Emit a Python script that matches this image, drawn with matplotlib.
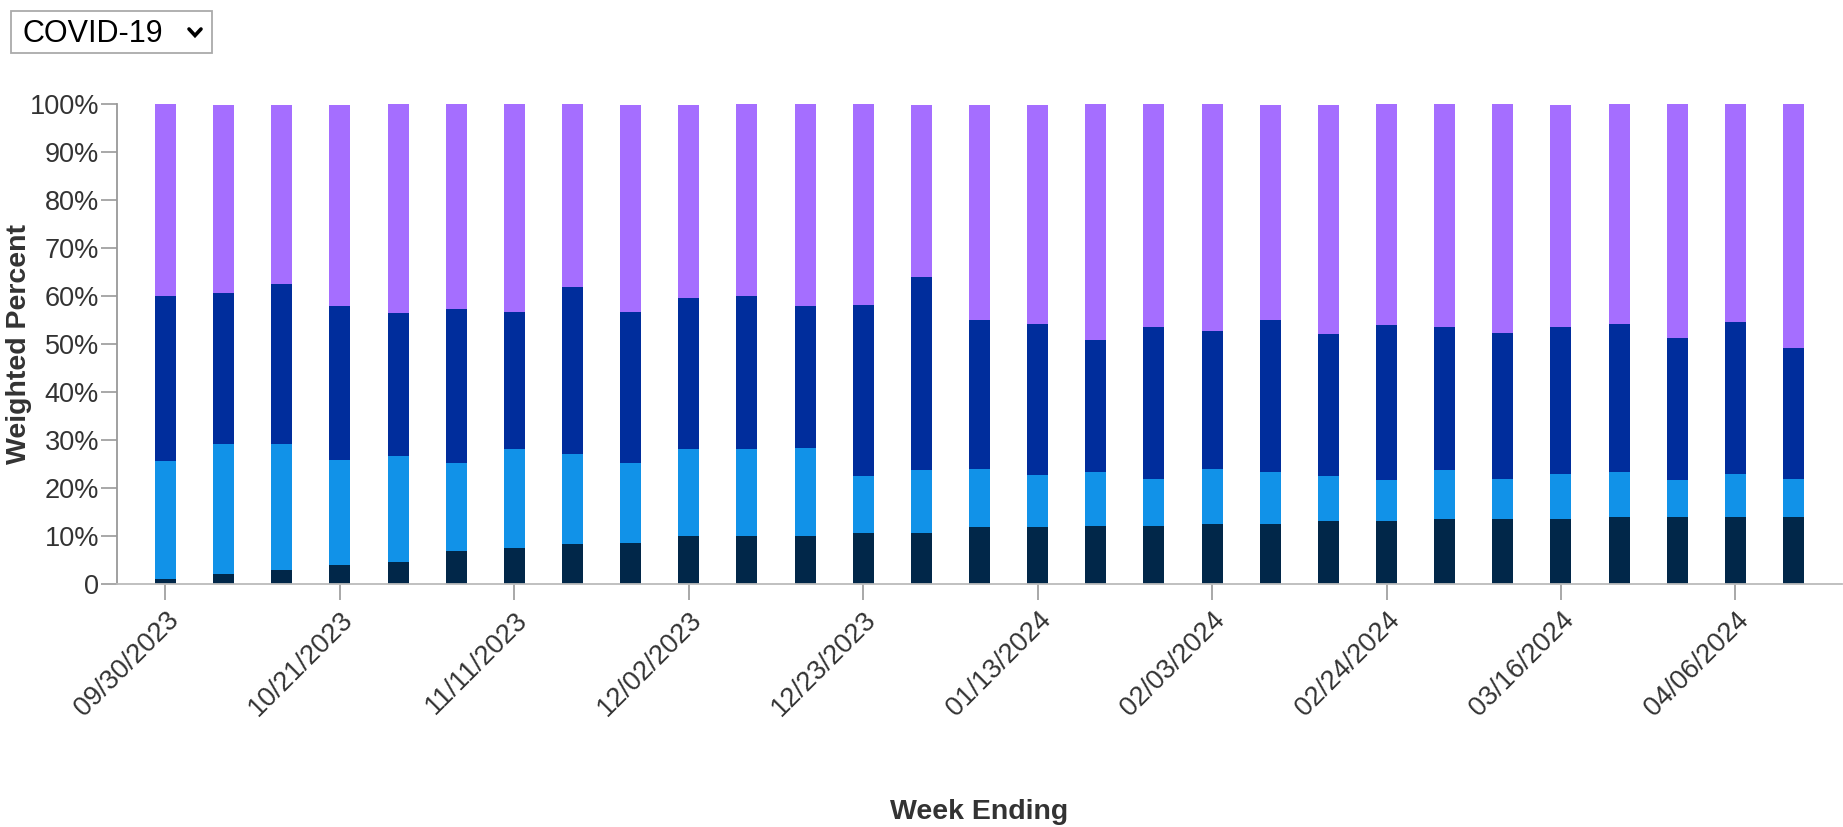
import matplotlib.pyplot as plt
from matplotlib.patches import Rectangle
from matplotlib.lines import Line2D
from matplotlib.transforms import ScaledTranslation

plt.rcParams['font.family'] = ['Liberation Sans', 'DejaVu Sans']

# Week ending dates (categories)
weeks = ['09/30/2023', '10/07/2023', '10/14/2023', '10/21/2023', '10/28/2023',
         '11/04/2023', '11/11/2023', '11/18/2023', '11/25/2023', '12/02/2023',
         '12/09/2023', '12/16/2023', '12/23/2023', '12/30/2023', '01/06/2024',
         '01/13/2024', '01/20/2024', '01/27/2024', '02/03/2024', '02/10/2024',
         '02/17/2024', '02/24/2024', '03/02/2024', '03/09/2024', '03/16/2024',
         '03/23/2024', '03/30/2024', '04/06/2024', '04/13/2024']

# Weighted percent of each segment, stacked bottom to top
navy = [1.0, 2.0, 2.9, 3.9, 4.6, 6.8, 7.4, 8.3, 8.5, 9.9, 10.1, 10.1, 10.6, 10.6,
        11.8, 11.8, 12.0, 12.0, 12.6, 12.6, 13.1, 13.1, 13.5, 13.5, 13.5, 13.9,
        13.9, 13.9, 13.9]
cyan = [24.6, 27.2, 26.3, 21.9, 22.0, 18.5, 20.7, 18.7, 16.8, 18.2, 18.0, 18.2,
        11.8, 13.1, 12.1, 11.0, 11.4, 9.8, 11.3, 10.7, 9.5, 8.5, 10.2, 8.4, 9.5,
        9.5, 7.7, 9.1, 8.0]
blue = [34.3, 31.4, 33.4, 32.1, 29.8, 31.9, 28.5, 34.8, 31.3, 31.4, 31.8, 29.6,
        35.7, 40.2, 31.2, 31.4, 27.4, 31.7, 28.8, 31.6, 29.5, 32.4, 29.8, 30.3,
        30.6, 30.7, 29.6, 31.6, 27.2]
purple = [40.1, 39.2, 37.2, 41.9, 43.6, 42.8, 43.4, 38.2, 43.2, 40.3, 40.1, 42.1,
          41.9, 35.9, 44.7, 45.6, 49.2, 46.5, 47.3, 44.9, 47.7, 46.0, 46.5, 47.8,
          46.2, 45.9, 48.8, 45.4, 50.9]

series = [navy, cyan, blue, purple]
colors = ['#012749', '#1192e8', '#002d9c', '#a56eff']

W, H = 1843, 827
fig = plt.figure(figsize=(W / 100, H / 100), dpi=100)
ax = fig.add_axes([117 / W, 1 - 584 / H, 1725 / W, 480 / H])

x = list(range(len(weeks)))
bottom = [0.0] * len(weeks)
for vals, col in zip(series, colors):
    ax.bar(x, vals, width=0.36, bottom=bottom, color=col, linewidth=0)
    bottom = [b + v for b, v in zip(bottom, vals)]

ax.set_xlim(-0.834, len(weeks) - 1 + 0.834)
ax.set_ylim(0, 100)

ax.set_yticks(range(0, 101, 10))
ax.set_yticklabels(['0'] + [f'{v}%' for v in range(10, 101, 10)])
ax.set_xticks(x[::3])
ax.set_xticklabels(weeks[::3], rotation=45, ha='right', va='top',
                   rotation_mode='anchor')
shift = ScaledTranslation(4 / 100, 0, fig.dpi_scale_trans)
for lbl in ax.get_xticklabels():
    lbl.set_transform(lbl.get_transform() + shift)

ax.tick_params(axis='y', length=11.5, width=1.2, color='#999999', labelsize=19.5,
               labelcolor='#333333', pad=1.5)
ax.tick_params(axis='x', length=11.5, width=1.2, color='#999999', labelsize=19.5,
               labelcolor='#333333', pad=5)

for s in ['top', 'right']:
    ax.spines[s].set_visible(False)
ax.spines['left'].set_color('#999999')
ax.spines['left'].set_linewidth(1.3)
ax.spines['bottom'].set_color('#bbbbbb')
ax.spines['bottom'].set_linewidth(1.3)

ax.set_ylabel('Weighted Percent', fontsize=20.5, fontweight='bold', color='#333333')
ax.yaxis.set_label_coords(-0.0495, 0.5)
ax.set_xlabel('Week Ending', fontsize=20.5, fontweight='bold', color='#333333')
ax.xaxis.set_label_coords(0.5, -0.447)

# dropdown selector at top left
fig.add_artist(Rectangle((11 / W, 1 - 53 / H), 201 / W, 42 / H,
                         transform=fig.transFigure, facecolor='white',
                         edgecolor='#aaaaaa', linewidth=1.3))
fig.text(22 / W, 1 - 42 / H, 'COVID-19', fontsize=22, color='black',
         va='baseline', ha='left')
fig.add_artist(Line2D([189 / W, 195 / W, 201 / W],
                      [1 - 29 / H, 1 - 35.5 / H, 1 - 29 / H],
                      transform=fig.transFigure, color='black', linewidth=2.6,
                      solid_capstyle='round', solid_joinstyle='miter'))

fig.savefig('out.png', dpi=100)
